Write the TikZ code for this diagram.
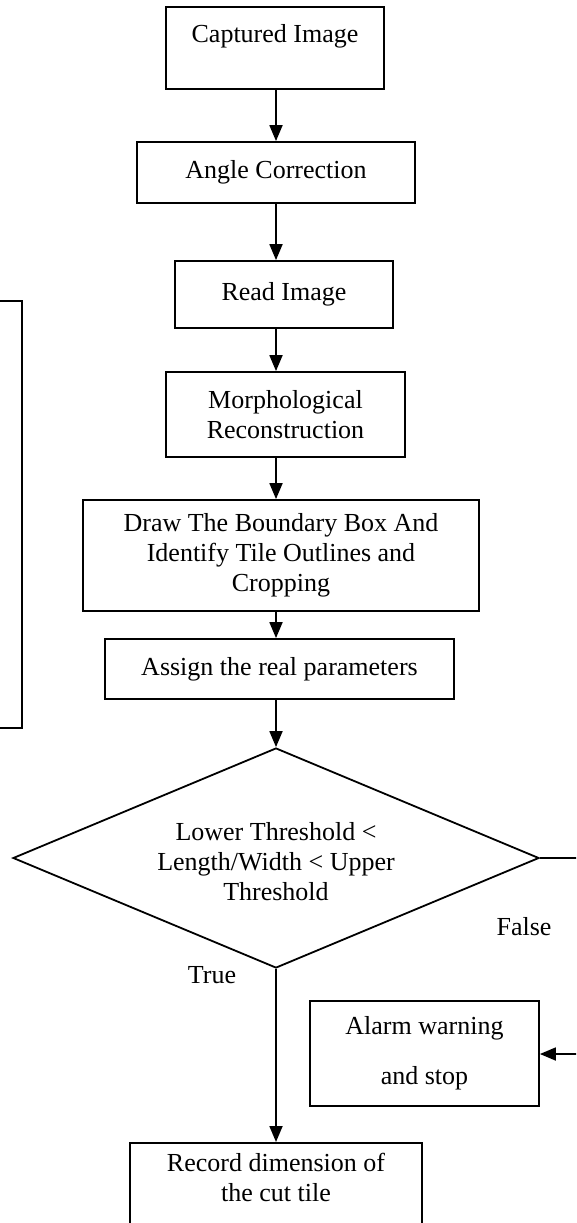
\documentclass[tikz,border=0pt]{standalone}
\usepackage{fontspec}
\setmainfont{Liberation Serif}
\usetikzlibrary{shapes.geometric,arrows.meta}
\begin{document}
\begin{tikzpicture}[x=1pt,y=-1pt,
  every node/.style={font=\fontsize{26}{30}\selectfont, inner sep=0pt},
  box/.style={draw, line width=1.8pt, align=center},
  arr/.style={line width=1.8pt, -{Triangle[length=16pt,width=13pt]}},
  ln/.style={line width=1.8pt}]
\useasboundingbox (0,0) rectangle (576,1223);
\clip (0,0) rectangle (576,1223);
\fill[white] (0,0) rectangle (576,1223);
\node[box, minimum width=218pt, minimum height=82pt] (cap) at (275,48) {Captured Image\\\mbox{}};
\node[box, minimum width=278pt, minimum height=61pt] (ang) at (276,172.5) {Angle Correction};
\node[box, minimum width=218pt, minimum height=67pt] (read) at (284,294.5) {Read Image};
\node[box, minimum width=239pt, minimum height=85pt] (morph) at (285.5,414.5) {Morphological\\Reconstruction};
\node[box, minimum width=396pt, minimum height=111pt] (drawb) at (281,555.5) {Draw The Boundary Box And\\Identify Tile Outlines and\\Cropping};
\node[box, minimum width=349pt, minimum height=60pt] (assign) at (279.5,669) {Assign the real parameters};
\node[draw, line width=1.8pt, diamond, minimum width=526pt, minimum height=220pt] (dia) at (276,858) {\makebox[0pt]{\raisebox{-10pt}[0pt][0pt]{\parbox[c]{320pt}{\centering Lower Threshold <\\Length/Width < Upper\\Threshold}}}};
\node[box, minimum width=229pt, minimum height=105pt] (alarm) at (424.5,1053.5) {Alarm warning\\[20pt]and stop};
\node[box, minimum width=292pt, minimum height=98pt, anchor=north] (rec) at (276,1142) {Record dimension of\\the cut tile\\\mbox{}};
\node[box, minimum width=60pt, minimum height=427pt] (side) at (-8,514.5) {};
\node (false) at (524,927) {False};
\node (true) at (212,975) {True};
\coordinate (c1) at (590,858);
\coordinate (c2) at (590,1054);
\draw[arr] (cap.south -| dia.north) -- (ang.north -| dia.north);
\draw[arr] (ang.south -| dia.north) -- (read.north -| dia.north);
\draw[arr] (read.south -| dia.north) -- (morph.north -| dia.north);
\draw[arr] (morph.south -| dia.north) -- (drawb.north -| dia.north);
\draw[arr] (drawb.south -| dia.north) -- (assign.north -| dia.north);
\draw[arr] (assign.south -| dia.north) -- (dia.north);
\draw[arr] (dia.south) -- (rec.north);
\draw[ln] (dia.east) -- (c1) -- (c2);
\draw[arr] (c2) -- (alarm.east |- c2);
\end{tikzpicture}
\end{document}
